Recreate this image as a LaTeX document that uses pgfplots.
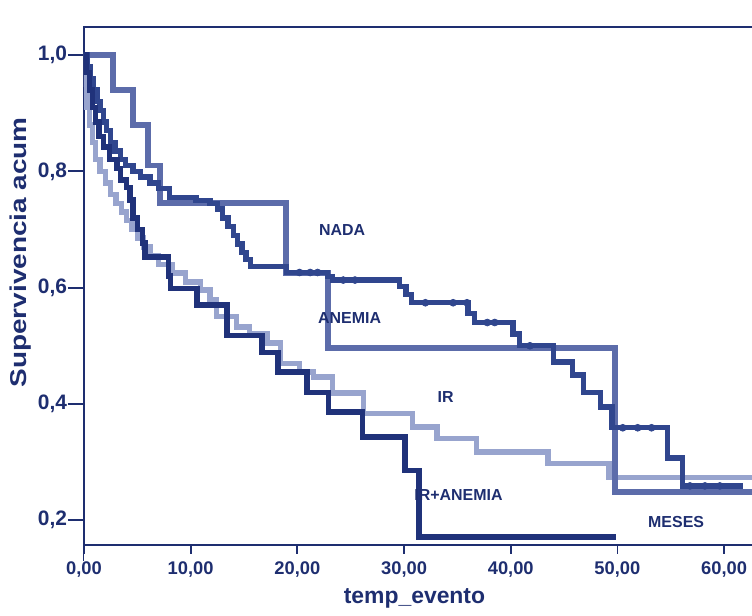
\documentclass[border=0pt]{standalone}
\usepackage{pgfplots}
\pgfplotsset{compat=1.18}
\usepackage{fontspec}
\setmainfont{Liberation Sans}
\definecolor{navy}{RGB}{30,46,112}
\definecolor{cirane}{RGB}{32,50,122}
\definecolor{cnada}{RGB}{48,70,142}
\definecolor{canemia}{RGB}{92,108,170}
\definecolor{cir}{RGB}{152,164,206}
\begin{document}
\begin{tikzpicture}
\begin{axis}[
  scale only axis, width=341.4bp, height=259bp,
  xmin=0, xmax=64, ymin=0.1574, ymax=1.0482,
  axis line style={navy, line width=1.1bp},
  xtick={0,10,20,30,40,50,60}, ytick={0.2,0.4,0.6,0.8,1.0},
  xtick pos=lower, ytick pos=left,
  tick align=outside, major tick length=8bp,
  tick style={navy, line width=0.9bp},
  /pgf/number format/assume math mode=true,
  xticklabel style={font=\fontsize{9.2}{10}\selectfont\bfseries, text=navy, yshift=3bp,
    /pgf/number format/.cd, fixed, fixed zerofill, precision=2, use comma},
  yticklabel style={font=\fontsize{10.5}{11}\selectfont\bfseries, text=navy, xshift=3bp,
    /pgf/number format/.cd, fixed, fixed zerofill, precision=1, use comma},
  xlabel={temp\_evento}, ylabel={\scalebox{1.22}[1.0]{Supervivencia acum}},
  label style={font=\fontsize{11.5}{13}\selectfont\bfseries, text=navy},
  x label style={at={([yshift=-29bp]axis description cs:0.484,0)}, anchor=base},
  y label style={at={([xshift=-28.5bp]axis description cs:0,0.565)}, anchor=base, rotate=0},
  const plot mark left,
  every axis plot/.append style={line join=miter, line cap=rect},
]
% IR
\addplot[cir, line width=2.7bp, no marks] coordinates {
(0,1.0)(0.15,0.95)(0.3,0.91)(0.5,0.88)(0.8,0.85)(1.1,0.82)(1.5,0.80)(2.0,0.78)(2.5,0.76)(3.0,0.745)(3.5,0.73)(4.0,0.715)(4.5,0.70)(5.0,0.685)(5.6,0.67)(6.2,0.655)(7.0,0.64)(8.3,0.625)(9.5,0.61)(10.9,0.596)(11.8,0.58)(12.4,0.55)(14.3,0.532)(15.5,0.52)(17.2,0.505)(18.4,0.47)(20.2,0.455)(21.5,0.446)(23.3,0.419)(26.2,0.384)(30.8,0.36)(33.1,0.341)(36.8,0.317)(43.5,0.298)(49.2,0.273)(64,0.273)};
% ANEMIA
\addplot[canemia, line width=2.9bp, no marks] coordinates {
(0,1.0)(2.7,0.94)(4.6,0.88)(6.0,0.81)(7.1,0.745)(18.9,0.625)(22.9,0.496)(49.8,0.248)(64,0.248)};
% NADA
\addplot[cnada, line width=2.7bp, no marks] coordinates {
(0,1.0)(0.3,0.98)(0.6,0.96)(0.9,0.94)(1.2,0.92)(1.5,0.905)(1.8,0.885)(2.1,0.87)(2.5,0.85)(2.9,0.835)(3.4,0.82)(3.9,0.81)(4.6,0.80)(5.3,0.79)(6.2,0.78)(7.0,0.77)(8.0,0.755)(10.5,0.75)(11.8,0.745)(12.5,0.735)(13.0,0.72)(13.5,0.705)(14.0,0.69)(14.4,0.675)(14.8,0.66)(15.2,0.648)(15.6,0.636)(19.0,0.626)(22.8,0.619)(23.3,0.613)(29.6,0.602)(30.2,0.588)(30.7,0.574)(36.0,0.556)(36.6,0.54)(40.2,0.52)(40.8,0.50)(44.0,0.472)(45.8,0.45)(46.8,0.42)(48.4,0.395)(49.5,0.359)(54.7,0.307)(56.1,0.259)(61.5,0.259)};
\addplot[cnada, only marks, mark=*, mark size=1.7bp] coordinates {
(20.2,0.626)(21.2,0.626)(21.9,0.626)(24.3,0.613)(25.4,0.613)(32.0,0.574)(34.6,0.574)(35.9,0.574)(37.8,0.54)(38.5,0.54)(41.8,0.50)(50.5,0.359)(51.9,0.359)(53.2,0.359)(56.8,0.259)(58.2,0.259)(59.6,0.259)};
% IR+ANEMIA
\addplot[cirane, line width=2.7bp, no marks] coordinates {
(0,1.0)(0.2,0.97)(0.5,0.94)(0.8,0.91)(1.1,0.885)(1.4,0.86)(1.8,0.842)(2.4,0.82)(3.1,0.805)(3.4,0.785)(4.0,0.772)(4.3,0.751)(4.6,0.72)(5.0,0.70)(5.5,0.677)(5.7,0.653)(7.9,0.62)(8.1,0.599)(10.6,0.57)(13.4,0.518)(16.7,0.488)(18.2,0.455)(20.9,0.42)(22.9,0.386)(26.1,0.343)(30.1,0.286)(31.4,0.171)(49.6,0.171)};
\node[font=\fontsize{8}{9}\selectfont\bfseries, text=navy] at (axis cs:24.2,0.699) {NADA};
\node[font=\fontsize{8}{9}\selectfont\bfseries, text=navy] at (axis cs:24.9,0.548) {ANEMIA};
\node[font=\fontsize{8}{9}\selectfont\bfseries, text=navy] at (axis cs:33.9,0.412) {IR};
\node[font=\fontsize{8}{9}\selectfont\bfseries, text=navy] at (axis cs:35.1,0.244) {IR+ANEMIA};
\node[font=\fontsize{8}{9}\selectfont\bfseries, text=navy] at (axis cs:55.5,0.197) {MESES};
\end{axis}
% hide the lower part of the x ticks so that they are 4.5bp long
\fill[white] ([yshift=-4.6bp]current axis.south west) rectangle ([xshift=341.4bp,yshift=-8.1bp]current axis.south west);
\pgfresetboundingbox
\path[use as bounding box] ([xshift=-42bp,yshift=-35.5bp]current axis.south west) rectangle ([xshift=334bp,yshift=13.5bp]current axis.north west);
\end{tikzpicture}
\end{document}
